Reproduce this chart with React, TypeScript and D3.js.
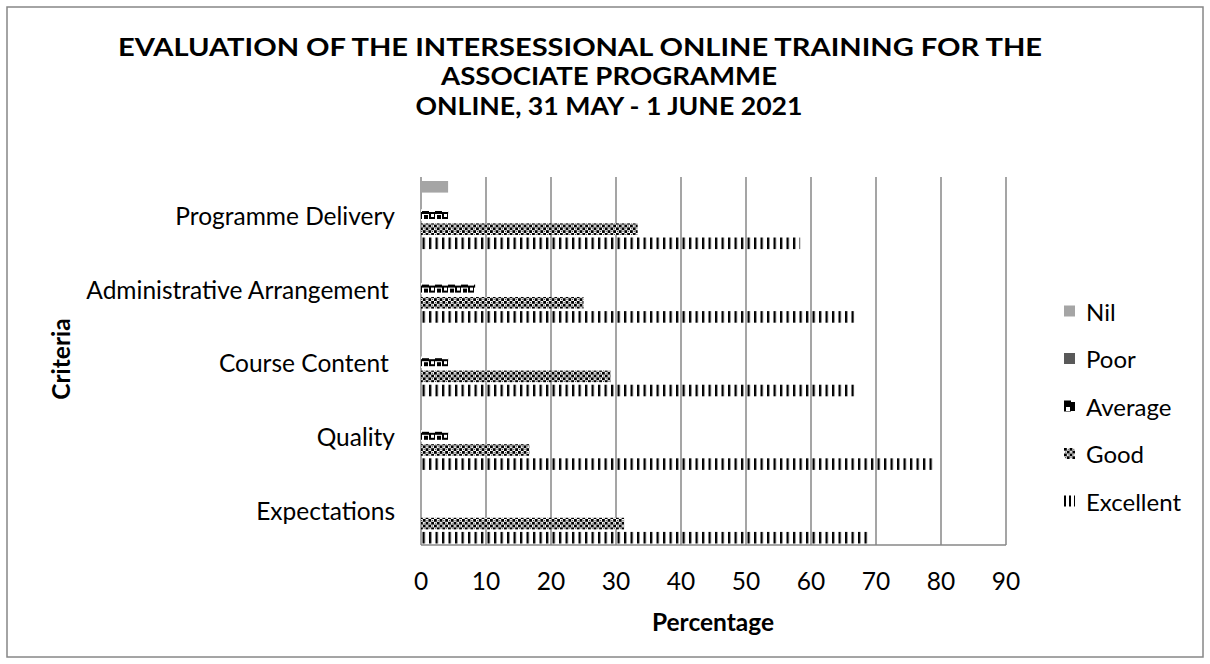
import React from "react";
import * as d3 from "d3";

const categories = [
  "Programme Delivery",
  "Administrative Arrangement ",
  "Course Content ",
  "Quality",
  "Expectations",
];
const seriesNames = ["Nil", "Poor", "Average", "Good", "Excellent"];
const nilValues = [4.17, 0, 0, 0, 0];
const poorValues = [0, 0, 0, 0, 0];
const averageValues = [4.17, 8.33, 4.17, 4.17, 0];
const goodValues = [33.33, 25, 29.17, 16.67, 31.25];
const excellentValues = [58.33, 66.67, 66.67, 79.17, 68.75];
const xTicks = [0, 10, 20, 30, 40, 50, 60, 70, 80, 90];
const titleLines = [
  "EVALUATION OF THE INTERSESSIONAL ONLINE TRAINING FOR THE",
  "ASSOCIATE PROGRAMME",
  "ONLINE, 31 MAY - 1 JUNE 2021",
];

const seriesValues = [nilValues, poorValues, averageValues, goodValues, excellentValues];
const fills = ["#A5A5A5", "#595959", "url(#patAvg)", "url(#patGood)", "url(#patExc)"];
const legendFills = ["#A5A5A5", "#595959", "url(#patAvgL)", "url(#patGood)", "url(#patExcL)"];

const FONT = "Lato, 'Open Sans', sans-serif";
const titleCenters = [580, 609, 609];
const titleWidths = [924, 336, 387];

export default function App() {
  const W = 1210;
  const H = 664;
  const x = d3.scaleLinear().domain([0, 90]).range([421, 1006]);
  const y = d3.scaleBand<string>().domain(categories).range([177, 545]);
  const inner = d3
    .scaleBand<string>()
    .domain(seriesNames)
    .range([4, y.bandwidth() - 1.5])
    .paddingInner(0.18);

  return (
    <svg
      width={W}
      height={H}
      style={{ position: "absolute", left: 0, top: 0, background: "#fff" }}
      fontFamily={FONT}
    >
      <defs>
        <pattern id="patExc" patternUnits="userSpaceOnUse" width={6.5} height={4}>
          <rect x={0} y={0} width={2.3} height={4} fill="#000" />
        </pattern>
        <pattern id="patExcL" patternUnits="userSpaceOnUse" width={5} height={4}>
          <rect x={0} y={0} width={2} height={4} fill="#000" />
        </pattern>
        <pattern id="patGood" patternUnits="userSpaceOnUse" width={5.6} height={5.6}>
          <rect x={0} y={0} width={5.6} height={5.6} fill="#fff" />
          <rect x={0} y={0} width={2.8} height={2.8} fill="#000" />
          <rect x={2.8} y={2.8} width={2.8} height={2.8} fill="#000" />
          <rect x={1} y={3.8} width={0.9} height={0.9} fill="#000" />
          <rect x={3.8} y={1} width={0.9} height={0.9} fill="#000" />
        </pattern>
        <pattern id="patAvg" patternUnits="userSpaceOnUse" width={13} height={11}>
          <rect x={0} y={0} width={13} height={11} fill="#fff" />
          <rect x={0} y={2} width={6} height={7} fill="#000" />
          <rect x={2} y={4} width={3} height={3} fill="#fff" />
          <rect x={6} y={1} width={7} height={3} fill="#000" />
          <rect x={8} y={5} width={4} height={4} fill="#000" />
        </pattern>
        <pattern id="patAvgL" patternUnits="userSpaceOnUse" width={11} height={11}>
          <rect x={0} y={0} width={11} height={11} fill="#000" />
          <rect x={2} y={1} width={4} height={4} fill="#fff" />
          <rect x={7} y={5} width={4} height={2} fill="#fff" />
        </pattern>
      </defs>

      <rect x={7} y={7} width={1196} height={650} fill="#fff" stroke="#878787" strokeWidth={1.5} />

      {titleLines.map((t, i) => (
        <text
          key={t}
          x={titleCenters[i]}
          y={46 + i * 29.5}
          textAnchor="middle"
          dominantBaseline="central"
          fontWeight="bold"
          fontSize={24.5}
          textLength={titleWidths[i]}
          lengthAdjust="spacingAndGlyphs"
          fill="#000"
        >
          {t}
        </text>
      ))}

      {xTicks.map((t) => (
        <line
          key={"g" + t}
          x1={x(t)}
          x2={x(t)}
          y1={177}
          y2={545}
          stroke="#878787"
          strokeWidth={1.5}
        />
      ))}
      <line x1={x(0)} x2={x(90)} y1={545} y2={545} stroke="#878787" strokeWidth={1.5} />

      {categories.map((c, ci) => (
        <g key={c} transform={`translate(0,${y(c)})`}>
          {seriesNames.map((s, si) => {
            const v = seriesValues[si][ci];
            if (!v) return null;
            return (
              <rect
                key={s}
                x={x(0)}
                y={inner(s)}
                width={x(v) - x(0)}
                height={inner.bandwidth()}
                fill={fills[si]}
              />
            );
          })}
          <text
            x={395}
            y={y.bandwidth() / 2 + 2}
            textAnchor="end"
            dominantBaseline="central"
            fontSize={24.5}
            fill="#000"
            style={{ whiteSpace: "pre" }}
          >
            {c}
          </text>
        </g>
      ))}

      {xTicks.map((t) => (
        <text
          key={"t" + t}
          x={x(t)}
          y={580}
          textAnchor="middle"
          dominantBaseline="central"
          fontSize={24.5}
          fill="#000"
        >
          {t}
        </text>
      ))}

      <text x={713} y={621} textAnchor="middle" dominantBaseline="central" fontWeight="bold" fontSize={24.5}>
        Percentage
      </text>
      <text
        transform="translate(60,359) rotate(-90)"
        textAnchor="middle"
        dominantBaseline="central"
        fontWeight="bold"
        fontSize={24.5}
      >
        Criteria
      </text>

      {seriesNames.map((s, i) => (
        <g key={"l" + s} transform={`translate(1064,${311 + i * 47.5})`}>
          <rect x={0} y={-5.5} width={11} height={11} fill={legendFills[i]} />
          <text x={22} y={0} dominantBaseline="central" fontSize={24} fill="#000">
            {s}
          </text>
        </g>
      ))}
    </svg>
  );
}
